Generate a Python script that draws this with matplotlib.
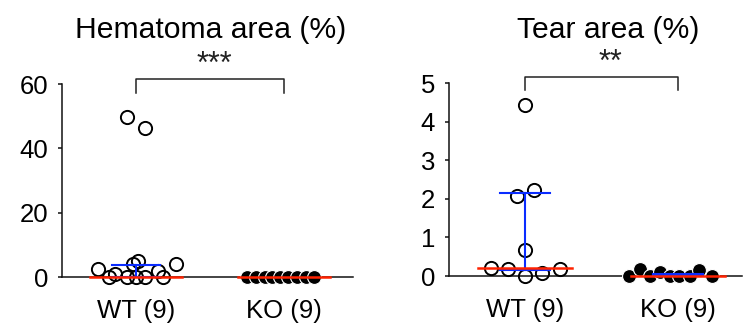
#scatter of hematoma and tear area, WT vs KO, with median (red) and IQR (blue)

import matplotlib
matplotlib.use('Agg')
import matplotlib.pyplot as plt
import numpy as np

plt.rcParams['font.family'] = ['Liberation Sans', 'DejaVu Sans']

groups = ['WT (9)', 'KO (9)']

# hematoma area (%) - values and horizontal jitter
hem_wt = [49.7, 46.3, 2.5, 0.0, 1.0, 0.0, 4.0, 5.0, 0.0, 0.0, 1.8, 0.0, 4.0]
hem_wt_jit = [-0.06, 0.06, -0.26, -0.18, -0.14, -0.06, -0.02, 0.01, 0.0, 0.06, 0.15, 0.18, 0.27]
hem_ko = [0, 0, 0, 0, 0, 0, 0, 0, 0]
hem_ko_jit = [-0.25, -0.19, -0.13, -0.08, -0.03, 0.03, 0.09, 0.15, 0.2]
hem_median = [0.0, 0.0]
hem_q1 = [0.0, 0.0]
hem_q3 = [3.8, 0.0]

# tear area (%)
tear_wt = [4.42, 2.08, 2.22, 0.68, 0.21, 0.17, 0.0, 0.08, 0.19]
tear_wt_jit = [0.0, -0.05, 0.06, 0.0, -0.22, -0.11, 0.0, 0.11, 0.23]
tear_ko = [0.0, 0.18, 0.0, 0.1, 0.0, 0.0, 0.0, 0.15, 0.0]
tear_ko_jit = [-0.32, -0.25, -0.18, -0.12, -0.05, 0.01, 0.08, 0.14, 0.22]
tear_median = [0.2, 0.0]
tear_q1 = [0.15, 0.03]
tear_q3 = [2.16, 0.06]

red = '#ff2200'
blue = '#0a2cff'

fig = plt.figure(figsize=(7.49, 3.29), dpi=100)
ax1 = fig.add_axes([0.0828, 0.158, 0.3885, 0.5866])
ax2 = fig.add_axes([0.5995, 0.161, 0.391, 0.5866])


def draw_panel(ax, wt, wt_jit, ko, ko_jit, med, q1, q3, ylim, yticks, xlim, bracket, stars, star_x, star_y):
    xs = [1, 2]
    ax.plot(xs[0] + np.array(wt_jit), wt, 'o', ms=9.5, mfc='none', mec='black', mew=1.4,
            clip_on=False, zorder=3)
    ax.plot(xs[1] + np.array(ko_jit), ko, 'o', ms=10, mfc='black', mec='white', mew=0.8,
            clip_on=False, zorder=3)
    for i, x in enumerate(xs):
        # IQR in blue
        if q3[i] > q1[i]:
            ax.plot([x - 0.165, x + 0.165], [q3[i], q3[i]], color=blue, lw=1.5, zorder=4, clip_on=False)
            ax.plot([x - 0.165, x + 0.165], [q1[i], q1[i]], color=blue, lw=1.5, zorder=4, clip_on=False)
            ax.plot([x, x], [q1[i], q3[i]], color=blue, lw=1.5, zorder=4, clip_on=False)
        # median in red
        ax.plot([x - 0.31, x + 0.31], [med[i], med[i]], color=red, lw=1.8, zorder=5, clip_on=False)
    ax.set_xlim(xlim)
    ax.set_ylim(ylim)
    ax.set_yticks(yticks)
    ax.set_xticks(xs)
    ax.set_xticklabels(groups)
    for s in ['top', 'right']:
        ax.spines[s].set_visible(False)
    for s in ['left', 'bottom']:
        ax.spines[s].set_linewidth(1.1)
        ax.spines[s].set_color('#111111')
    ax.tick_params(axis='y', length=3, width=1.1, pad=7, labelsize=18.5, color='#111111')
    ax.tick_params(axis='x', length=0, pad=16, labelsize=18.5)
    # significance bracket
    top, bot = bracket
    ax.plot([1, 1, 2, 2], [bot, top, top, bot], color='#222222', lw=1.1, clip_on=False)
    ax.text(star_x, star_y, stars, ha='center', va='baseline', fontsize=22, color='#222222',
            clip_on=False)


draw_panel(ax1, hem_wt, hem_wt_jit, hem_ko, hem_ko_jit, hem_median, hem_q1, hem_q3,
           (0, 60), [0, 20, 40, 60], (0.5, 2.466), (61.6, 57.2), '***', 1.53, 63.4)
draw_panel(ax2, tear_wt, tear_wt_jit, tear_ko, tear_ko_jit, tear_median, tear_q1, tear_q3,
           (0, 5), [0, 1, 2, 3, 4, 5], (0.503, 2.418), (5.16, 4.82), '**', 1.56, 5.31)

fig.text(211 / 749, 1 - 38 / 329, 'Hematoma area (%)', ha='center', va='baseline', fontsize=21.7)
fig.text(608 / 749, 1 - 38 / 329, 'Tear area (%)', ha='center', va='baseline', fontsize=21.7)

plt.savefig('out.png', dpi=100)
